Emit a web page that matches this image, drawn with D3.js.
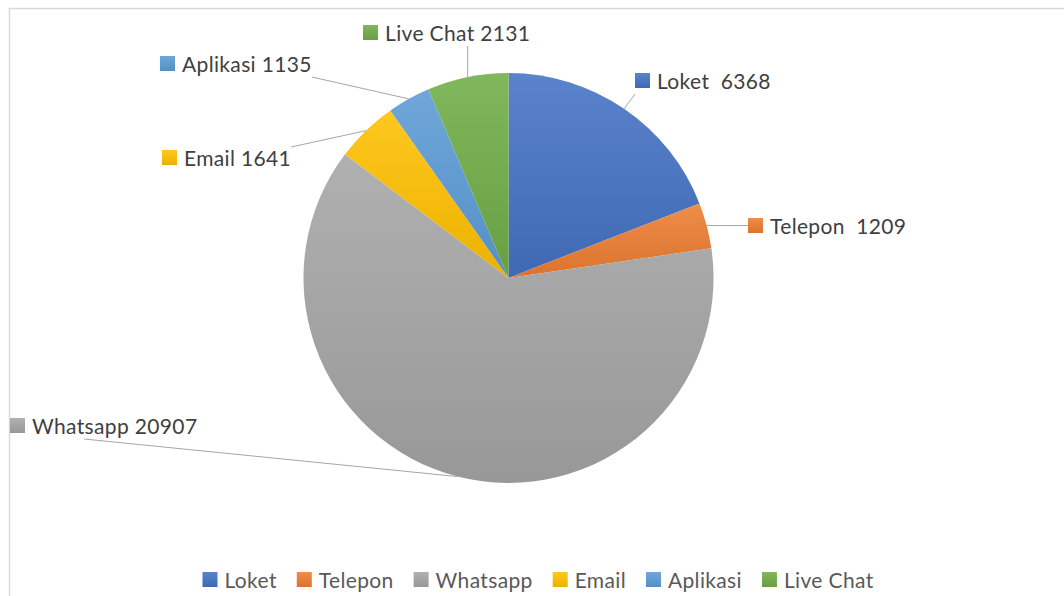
<!DOCTYPE html>
<html>
<head>
<meta charset="utf-8">
<script src="https://cdn.jsdelivr.net/npm/d3@7"></script>
<style>
  body { margin: 0; background: #fff; }
  svg { display: block; font-family: Lato, "Open Sans", sans-serif; }
</style>
</head>
<body>
<div id="chart"></div>
<script>
const categories = ["Loket", "Telepon", "Whatsapp", "Email", "Aplikasi", "Live Chat"];
const values = [6368, 1209, 20907, 1641, 1135, 2131];
const labelNames = ["Loket ", "Telepon ", "Whatsapp", "Email", "Aplikasi", "Live Chat"];
const colors = ["#4472C4", "#ED7D31", "#A5A5A5", "#FFC000", "#5B9BD5", "#70AD47"];

// where Excel placed each data label: square left / square top, optional hook x on the box bottom
const labelLayout = [
  { x: 635, y: 73 },
  { x: 748, y: 218 },
  { x: 10, y: 418, hook: 84 },
  { x: 162, y: 150 },
  { x: 160, y: 56 },
  { x: 363, y: 25 }
];

const width = 1064, height = 596;
const cx = 508.5, cy = 278, r = 205;

const svg = d3.select("#chart").append("svg")
  .attr("width", width)
  .attr("height", height);

// chart area border (runs off right and bottom edge)
svg.append("rect")
  .attr("x", 9.5).attr("y", 8.5)
  .attr("width", width + 20).attr("height", height + 20)
  .attr("fill", "none")
  .attr("stroke", "#d9d9d9")
  .attr("stroke-width", 1.5);

const defs = svg.append("defs");
colors.forEach((c, i) => {
  const g = defs.append("linearGradient")
    .attr("id", "grad" + i)
    .attr("x1", 0).attr("y1", 0).attr("x2", 0).attr("y2", 1);
  g.append("stop").attr("offset", "0%").attr("stop-color", d3.interpolateRgb(c, "#fff")(0.12));
  g.append("stop").attr("offset", "100%").attr("stop-color", d3.interpolateRgb(c, "#000")(0.08));
});

const data = categories.map((c, i) => ({ name: c, value: values[i], i }));
const pie = d3.pie().value(d => d.value).sort(null);
const arcs = pie(data);
const arc = d3.arc().innerRadius(0).outerRadius(r);

const g = svg.append("g").attr("transform", `translate(${cx},${cy})`);

g.selectAll("path.slice")
  .data(arcs)
  .enter().append("path")
  .attr("class", "slice")
  .attr("d", arc)
  .attr("fill", d => `url(#grad${d.data.i})`);

// data labels
const labels = svg.append("g");
arcs.forEach((a, i) => {
  const L = labelLayout[i];
  const lg = labels.append("g");
  lg.append("rect")
    .attr("x", L.x).attr("y", L.y)
    .attr("width", 15).attr("height", 15)
    .attr("fill", `url(#grad${i})`);
  const t = lg.append("text")
    .attr("x", L.x + 22).attr("y", L.y + 16)
    .attr("fill", "#404040")
    .style("font-size", "21px")
    .style("letter-spacing", "0.35px")
    .style("white-space", "pre")
    .text(`${labelNames[i]} ${values[i]}`);
  const tw = t.node().getComputedTextLength();
  const box = { x0: L.x, x1: L.x + 22 + tw, y0: L.y - 3, y1: L.y + 21 };

  const mid = (a.startAngle + a.endAngle) / 2;
  const px = cx + r * Math.sin(mid), py = cy - r * Math.cos(mid);
  let ex = Math.max(box.x0, Math.min(box.x1, px));
  let ey = Math.max(box.y0, Math.min(box.y1, py));
  if (L.hook != null) { ex = L.hook; ey = box.y1; }

  labels.insert("line", ":first-child")
    .attr("x1", px).attr("y1", py)
    .attr("x2", ex).attr("y2", ey)
    .attr("stroke", "#a6a6a6")
    .attr("stroke-width", 1);
});

// legend
const legend = svg.append("g");
const gap = 20;
let lx = 0;
categories.forEach((c, i) => {
  const it = legend.append("g").attr("transform", `translate(${lx},0)`);
  it.append("rect")
    .attr("x", 0).attr("y", -15)
    .attr("width", 15).attr("height", 15)
    .attr("fill", `url(#grad${i})`);
  const t = it.append("text")
    .attr("x", 22).attr("y", 1)
    .attr("fill", "#595959")
    .style("font-size", "21px")
    .style("letter-spacing", "0.35px")
    .text(c);
  lx += 22 + t.node().getComputedTextLength() + gap;
});
const totalW = lx - gap;
legend.attr("transform", `translate(${538 - totalW / 2},587)`);
</script>
</body>
</html>
